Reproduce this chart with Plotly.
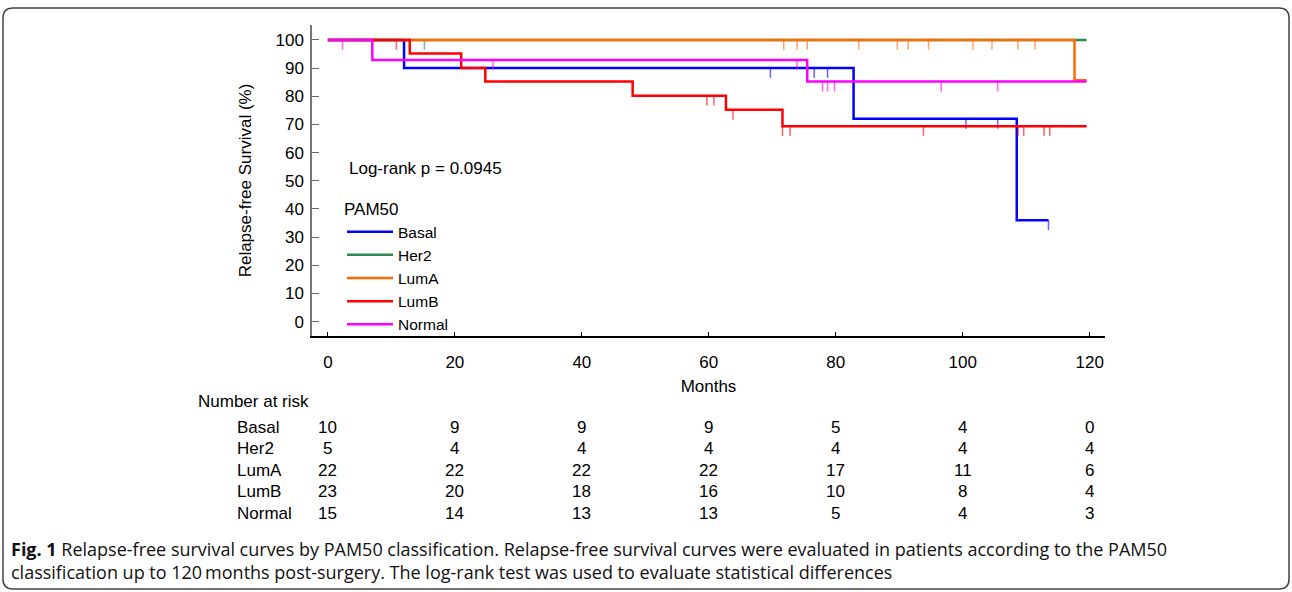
import plotly.graph_objects as go

# ---------------- data ----------------
groups = ["Basal", "Her2", "LumA", "LumB", "Normal"]
colors = ["#0000FF", "#2E8B57", "#FF6A00", "#FF0000", "#FF00FF"]

# event times (months) and survival (%) after each event
basal_event_t = [12.0, 82.8, 108.5]
basal_event_s = [90.0, 72.0, 36.0]
basal_censor = [69.7, 76.6, 78.7, 100.5, 105.5, 113.5]
basal_end = 113.5

her2_event_t = []
her2_event_s = []
her2_censor = [15.2]
her2_end = 119.5

luma_event_t = [117.6]
luma_event_s = [85.7]
luma_censor = [71.8, 73.9, 75.5, 83.6, 89.7, 91.4, 94.6, 101.6, 104.6, 108.7, 111.4]
luma_end = 119.5

lumb_event_t = [12.9, 21.0, 24.8, 48.0, 62.7, 71.6]
lumb_event_s = [95.2, 90.0, 85.2, 80.2, 75.2, 69.4]
lumb_censor = [10.8, 59.7, 60.8, 63.8, 71.6, 72.8, 93.8, 108.7, 109.6, 112.8, 113.7]
lumb_end = 119.5

normal_event_t = [7.0, 75.5]
normal_event_s = [92.9, 85.2]
normal_censor = [2.3, 26.0, 73.9, 77.9, 78.7, 79.8, 96.6, 105.5]
normal_end = 119.5

# number at risk
risk_times = [0, 20, 40, 60, 80, 100, 120]
risk_basal = [10, 9, 9, 9, 5, 4, 0]
risk_her2 = [5, 4, 4, 4, 4, 4, 4]
risk_luma = [22, 22, 22, 22, 17, 11, 6]
risk_lumb = [23, 20, 18, 16, 10, 8, 4]
risk_normal = [15, 14, 13, 13, 5, 4, 3]

x_ticks = [0, 20, 40, 60, 80, 100, 120]
y_ticks = [0, 10, 20, 30, 40, 50, 60, 70, 80, 90, 100]

series = [
    (basal_event_t, basal_event_s, basal_censor, basal_end, risk_basal),
    (her2_event_t, her2_event_s, her2_censor, her2_end, risk_her2),
    (luma_event_t, luma_event_s, luma_censor, luma_end, risk_luma),
    (lumb_event_t, lumb_event_s, lumb_censor, lumb_end, risk_lumb),
    (normal_event_t, normal_event_s, normal_censor, normal_end, risk_normal),
]

TICK_LEN = 3.5  # censor tick length in % units


def surv_at(t, ev_t, ev_s):
    s = 100.0
    for et, es in zip(ev_t, ev_s):
        if et <= t:
            s = es
    return s


fig = go.Figure()

for name, col, (ev_t, ev_s, cens, t_end, _) in zip(groups, colors, series):
    xs = [0] + list(ev_t) + [t_end]
    ys = [100] + list(ev_s) + [ev_s[-1] if ev_s else 100]
    fig.add_trace(go.Scatter(
        x=xs, y=ys, mode="lines", name=name,
        line=dict(color=col, width=2.5, shape="hv"),
        hoverinfo="skip",
    ))
    cx, cy = [], []
    for c in cens:
        s = surv_at(c, ev_t, ev_s)
        cx += [c, c, None]
        cy += [s, s - TICK_LEN, None]
    fig.add_trace(go.Scatter(
        x=cx, y=cy, mode="lines", showlegend=False,
        line=dict(color=col, width=1.5), opacity=0.6, hoverinfo="skip",
    ))

FONT = "Liberation Sans, Arial, sans-serif"
FS = 17

# plot area geometry (pixels)
L, R, T, B = 312, 187, 25, 256
W, H = 1292, 592
PW, PH = W - L - R, H - T - B


def px(xp):
    return (xp - L) / PW


def py(yp):
    return (H - B - yp) / PH


annotations = []
annotations.append(dict(text="Log-rank p = 0.0945", x=px(347), y=py(168), xref="paper", yref="paper",
                        xanchor="left", yanchor="middle", showarrow=False, font=dict(size=FS, family=FONT, color="black")))
annotations.append(dict(text="Number at risk", x=px(196), y=py(401), xref="paper", yref="paper",
                        xanchor="left", yanchor="middle", showarrow=False, font=dict(size=FS, family=FONT, color="black")))
row_y = [427, 448, 470, 491, 513]
for name, (_, _, _, _, risk), ry in zip(groups, series, row_y):
    annotations.append(dict(text=name, x=px(235), y=py(ry), xref="paper", yref="paper",
                            xanchor="left", yanchor="middle", showarrow=False,
                            font=dict(size=FS, family=FONT, color="black")))
    for t, n in zip(risk_times, risk):
        annotations.append(dict(text=str(n), x=t, y=py(ry), xref="x", yref="paper",
                                xanchor="center", yanchor="middle", showarrow=False,
                                font=dict(size=FS, family=FONT, color="black")))

CAP_FONT = "Open Sans, sans-serif"
annotations.append(dict(
    text=("<b>Fig. 1</b> Relapse-free survival curves by PAM50 classification. Relapse-free survival curves "
          "were evaluated in patients according to the PAM50<br>"
          "classification up to 120\u2009months post-surgery. The log-rank test was used to evaluate statistical differences"),
    x=px(9), y=py(560), xref="paper", yref="paper", xanchor="left", yanchor="middle",
    align="left", showarrow=False,
    font=dict(size=18, family=CAP_FONT, color="#111")))

# rounded border around the whole figure
x0, x1, y0, y1 = px(3), px(1289), py(8), py(589)
rx, ry_ = 10 / PW, 10 / PH
path = (f"M {x0 + rx} {y0} L {x1 - rx} {y0} Q {x1} {y0} {x1} {y0 - ry_} "
        f"L {x1} {y1 + ry_} Q {x1} {y1} {x1 - rx} {y1} "
        f"L {x0 + rx} {y1} Q {x0} {y1} {x0} {y1 + ry_} "
        f"L {x0} {y0 - ry_} Q {x0} {y0} {x0 + rx} {y0} Z")

fig.update_layout(
    width=W, height=H,
    margin=dict(l=L, r=R, t=T, b=B, pad=0),
    paper_bgcolor="white", plot_bgcolor="white",
    font=dict(family=FONT, size=FS, color="black"),
    showlegend=True,
    legend=dict(
        title=dict(text="PAM50", font=dict(size=17, family=FONT)),
        x=px(342), y=py(193), xanchor="left", yanchor="top",
        bgcolor="rgba(0,0,0,0)", font=dict(size=15.5, family=FONT),
        tracegroupgap=0, itemwidth=46,
    ),
    xaxis=dict(
        range=[-2.5, 122.4], tickvals=x_ticks, ticks="inside", ticklen=4, tickwidth=1.2,
        tickcolor="black", showline=True, linecolor="black", linewidth=1.5,
        showgrid=False, zeroline=False, tickfont=dict(size=FS),
        ticklabelstandoff=10,
        title=dict(text="Months", font=dict(size=FS), standoff=9),
    ),
    yaxis=dict(
        range=[-5.1, 105.3], tickvals=y_ticks, ticks="inside", ticklen=7, tickwidth=1.2,
        tickcolor="#666", showline=True, linecolor="#777", linewidth=1.5,
        showgrid=False, zeroline=False, tickfont=dict(size=FS),
        ticklabelstandoff=3,
        title=dict(text="Relapse-free Survival (%)", font=dict(size=FS), standoff=20),
    ),
    annotations=annotations,
    shapes=[dict(type="path", path=path, xref="paper", yref="paper",
                 line=dict(color="#444", width=1.5), layer="above")],
)

fig.write_html("out.html", post_script="document.body.style.margin='0';",
               config={"displayModeBar": False})
